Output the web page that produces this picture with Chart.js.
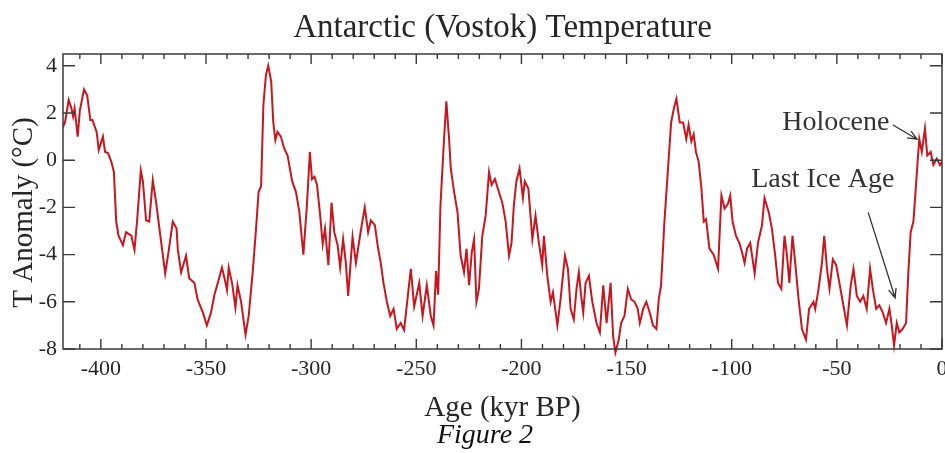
<!DOCTYPE html>
<html><head><meta charset="utf-8">
<script src="https://cdn.jsdelivr.net/npm/chart.js@4/dist/chart.umd.min.js"></script>
<style>html,body{margin:0;padding:0;background:#fff;}canvas{display:block;}</style>
</head><body>
<canvas id="c" width="945" height="453"></canvas>
<script>
const ages = [
-418,-417.0,-415.3,-414.0,-413.2,-412.5,-411.0,-410.0,-408.0,-406.5,
-405.0,-404.0,-402.0,-401.0,-399.0,-398.0,-396.6,-395.0,-393.8,-392.7,
-391.6,-389.5,-388.0,-385.5,-384.0,-382.7,-381.0,-380.0,-378.5,-377.0,
-375.3,-373.7,-372.0,-369.4,-368.0,-365.8,-364.0,-363.4,-361.8,-359.5,
-358.0,-355.5,-354.0,-351.5,-349.6,-347.6,-346.0,-344.4,-342.4,-341.2,
-340.0,-339.2,-337.6,-336.0,-335.0,-333.3,-331.2,-329.7,-327.8,-326.2,
-325.0,-323.8,-322.7,-321.5,-320.4,-319.0,-318.0,-317.0,-316.0,-314.4,
-312.8,-311.2,-309.0,-307.2,-305.6,-303.7,-302.0,-300.6,-299.6,-298.4,
-297.2,-295.7,-294.5,-293.4,-291.8,-290.3,-289.0,-287.4,-286.2,-284.8,
-283.5,-282.4,-280.3,-278.7,-277.6,-276.4,-274.5,-272.9,-271.6,-269.7,
-268.4,-266.9,-265.6,-264.0,-262.4,-260.8,-259.3,-257.4,-255.8,-254.2,
-252.6,-251.0,-248.6,-247.0,-245.0,-243.1,-241.8,-240.6,-239.6,-238.5,
-236.8,-235.7,-234.4,-233.6,-232.0,-230.4,-228.9,-227.3,-226.1,-224.9,
-223.6,-222.5,-221.4,-220.2,-218.6,-217.0,-215.4,-214.2,-212.6,-210.7,
-209.1,-207.5,-205.9,-204.7,-203.6,-202.4,-200.9,-199.3,-198.4,-196.7,
-194.8,-193.3,-191.7,-190.1,-189.3,-187.7,-186.1,-185.0,-182.9,-181.4,
-179.3,-177.9,-176.6,-175.1,-173.8,-172.7,-171.6,-170.6,-169.5,-167.9,
-166.3,-164.3,-162.7,-161.1,-159.5,-157.6,-156.4,-155.3,-153.7,-152.6,
-151.0,-149.4,-147.8,-146.2,-144.7,-143.7,-142.1,-140.6,-139.0,-137.4,
-135.8,-134.7,-133.6,-132.0,-130.4,-128.8,-127.5,-126.3,-124.7,-123.1,
-121.6,-120.5,-119.2,-118.1,-117.0,-115.7,-114.4,-113.3,-112.2,-110.6,
-108.6,-106.5,-104.9,-103.4,-101.8,-100.7,-99.6,-98.0,-96.4,-95.1,
-93.9,-92.7,-91.2,-89.1,-87.5,-85.6,-84.4,-82.4,-80.9,-79.3,
-78.0,-76.4,-74.9,-73.7,-72.6,-71.1,-69.8,-68.2,-66.6,-64.7,
-63.2,-61.1,-60.3,-58.7,-57.1,-56.0,-54.7,-53.5,-51.9,-50.3,
-48.8,-47.2,-45.2,-43.4,-42.1,-40.5,-38.9,-37.4,-35.8,-34.2,
-32.9,-31.3,-29.8,-28.2,-26.6,-25.0,-23.9,-22.8,-21.5,-20.3,
-18.7,-17.1,-16.0,-14.9,-13.6,-12.8,-11.7,-10.8,-9.6,-8.1,
-7.0,-5.4,-4.1,-2.5,-0.95,0
];
const temps = [
1.4,1.63,2.55,2.2,1.85,2.2,1.0,2.1,3.0,2.75,
1.7,1.7,1.2,0.43,1.0,0.35,0.3,-0.07,-0.5,-2.6,
-3.2,-3.6,-3.05,-3.2,-3.8,-2.5,-0.43,-0.9,-2.55,-2.6,
-0.85,-1.8,-3.0,-4.8,-4.0,-2.6,-2.9,-3.8,-4.75,-4.05,
-5.0,-5.2,-5.9,-6.45,-7.0,-6.45,-5.7,-5.2,-4.55,-5.0,
-5.5,-4.55,-5.2,-6.25,-5.3,-6.0,-7.4,-6.6,-4.75,-2.9,
-1.35,-1.1,2.35,3.6,4.0,3.35,1.6,0.85,1.2,1.0,
0.5,0.2,-0.9,-1.35,-2.2,-4.0,-1.9,0.35,-0.8,-0.7,
-1.05,-2.35,-3.55,-2.9,-4.45,-1.8,-3.05,-3.6,-4.55,-3.35,
-4.35,-5.75,-3.25,-4.35,-3.7,-3.0,-2.0,-3.05,-2.55,-2.75,
-3.6,-4.35,-5.2,-6.0,-6.6,-6.3,-7.15,-6.9,-7.2,-5.9,
-4.6,-6.2,-5.2,-6.6,-5.3,-6.6,-7.0,-4.7,-5.7,-1.9,
0.9,2.5,0.9,-0.35,-1.35,-2.2,-4.05,-4.75,-3.75,-5.3,
-3.9,-3.35,-6.0,-5.45,-3.2,-2.35,-0.5,-1.05,-0.8,-1.35,
-1.8,-2.6,-4.05,-3.5,-1.9,-0.9,-0.35,-1.6,-0.9,-1.2,
-3.35,-2.35,-3.5,-4.45,-3.2,-4.9,-6.0,-5.6,-7.0,-5.9,
-4.05,-4.6,-6.3,-6.75,-5.45,-4.75,-5.75,-6.45,-5.2,-4.9,
-6.0,-6.9,-7.3,-5.3,-6.9,-5.2,-7.45,-8.15,-7.6,-6.9,
-6.6,-5.45,-5.9,-6.0,-6.3,-6.9,-6.3,-6.0,-6.45,-7.0,
-7.15,-5.9,-5.3,-2.6,-0.5,1.6,2.2,2.6,1.6,1.6,
0.9,1.5,0.8,1.1,0.35,-0.07,-1.2,-2.6,-2.5,-3.75,
-4.0,-4.6,-1.5,-2.05,-1.85,-1.5,-2.6,-3.2,-3.5,-3.9,
-4.35,-3.75,-3.5,-4.8,-3.5,-2.75,-1.6,-2.2,-2.9,-4.05,
-5.2,-5.45,-3.2,-4.05,-5.2,-3.2,-4.35,-5.9,-7.15,-7.6,
-6.3,-6.0,-6.3,-5.45,-4.35,-3.2,-4.6,-5.45,-4.2,-4.45,
-5.2,-6.0,-7.0,-5.3,-4.6,-5.75,-6.0,-5.75,-6.3,-4.6,
-5.45,-6.3,-6.15,-6.45,-6.9,-6.3,-7.0,-7.85,-6.9,-7.3,
-7.15,-6.9,-4.75,-3.05,-2.6,-1.6,-0.2,0.9,0.35,1.35,
0.2,0.35,-0.2,0.07,-0.2,-0.07
];
const xTickValues = [-400,-350,-300,-250,-200,-150,-100,-50,0];
const xMinorValues = [-410,-390,-380,-370,-360,-340,-330,-320,-310,-290,-280,-270,-260,-240,-230,-220,-210,-190,-180,-170,-160,-140,-130,-120,-110,-90,-80,-70,-60,-40,-30,-20,-10];
const yTickValues = [-8,-6,-4,-2,0,2,4];
const titleText = 'Antarctic (Vostok) Temperature';
const xTitleText = 'Age (kyr BP)';
const yTitleText = 'T Anomaly (°C)';
const captionText = 'Figure 2';
const notes = [
  {text:'Holocene', at:[-76,1.28], from:[-23.3,1.49], to:[-11.9,0.89]},
  {text:'Last Ice Age', at:[-90.7,-1.14], from:[-35.1,-2.21], to:[-22.3,-5.83]}
];

const FONT = 'Liberation Serif';
const TXT = '#262626';

const framePlugin = {
  id: 'frame',
  afterDatasetsDraw(chart) {
    const {ctx, chartArea: a, scales: {x, y}} = chart;
    ctx.save();
    ctx.strokeStyle = '#3a3a3a';
    ctx.lineWidth = 1.5;
    ctx.strokeRect(a.left, a.top, a.right - a.left, a.bottom - a.top);
    ctx.lineWidth = 1.4;
    ctx.beginPath();
    xTickValues.forEach(v => {
      const p = x.getPixelForValue(v);
      ctx.moveTo(p, a.bottom); ctx.lineTo(p, a.bottom - 10);
      ctx.moveTo(p, a.top); ctx.lineTo(p, a.top + 10);
    });
    xMinorValues.forEach(v => {
      const p = x.getPixelForValue(v);
      ctx.moveTo(p, a.bottom); ctx.lineTo(p, a.bottom - 5);
      ctx.moveTo(p, a.top); ctx.lineTo(p, a.top + 5);
    });
    yTickValues.forEach(v => {
      const p = y.getPixelForValue(v);
      ctx.moveTo(a.left, p); ctx.lineTo(a.left + 12, p);
      ctx.moveTo(a.right, p); ctx.lineTo(a.right - 12, p);
    });
    ctx.stroke();

    ctx.fillStyle = '#333';
    ctx.font = '28px "' + FONT + '"';
    ctx.textAlign = 'left';
    ctx.textBaseline = 'alphabetic';
    notes.forEach(n => {
      ctx.fillText(n.text, x.getPixelForValue(n.at[0]), y.getPixelForValue(n.at[1]));
      const x1 = x.getPixelForValue(n.from[0]), y1 = y.getPixelForValue(n.from[1]);
      const x2 = x.getPixelForValue(n.to[0]), y2 = y.getPixelForValue(n.to[1]);
      ctx.strokeStyle = '#333';
      ctx.lineWidth = 1.3;
      ctx.beginPath();
      ctx.moveTo(x1, y1); ctx.lineTo(x2, y2);
      const ang = Math.atan2(y2 - y1, x2 - x1);
      const L = 10, w = 0.4;
      ctx.moveTo(x2 - L * Math.cos(ang - w), y2 - L * Math.sin(ang - w));
      ctx.lineTo(x2, y2);
      ctx.lineTo(x2 - L * Math.cos(ang + w), y2 - L * Math.sin(ang + w));
      ctx.stroke();
    });

    // y-axis title
    ctx.fillStyle = TXT;
    ctx.font = '29px "' + FONT + '"';
    ctx.textAlign = 'center';
    ctx.textBaseline = 'middle';
    ctx.save();
    ctx.translate(24, (a.top + a.bottom) / 2 + 11);
    ctx.rotate(-Math.PI / 2);
    ctx.fillText(yTitleText, 0, 0);
    ctx.restore();

    // caption
    ctx.fillStyle = '#111';
    ctx.font = 'italic 28px "' + FONT + '"';
    ctx.textAlign = 'center';
    ctx.textBaseline = 'middle';
    ctx.fillText(captionText, 485, 436);
    ctx.restore();
  }
};

new Chart(document.getElementById('c'), {
  type: 'line',
  data: {
    datasets: [{
      data: ages.map((a, i) => ({x: a, y: temps[i]})),
      borderColor: '#c8161f',
      borderWidth: 2,
      pointRadius: 0,
      tension: 0,
      fill: false,
      clip: {left: 0, right: 0, top: 0, bottom: 8}
    }]
  },
  options: {
    responsive: false,
    animation: false,
    events: [],
    layout: {padding: {left: 0, right: 3, top: 0, bottom: 33.6}},
    plugins: {
      legend: {display: false},
      tooltip: {enabled: false},
      title: {
        display: true, text: titleText, color: TXT, fullSize: false,
        font: {family: FONT, size: 33, weight: 'normal'},
        padding: {top: 9, bottom: 5.4}
      }
    },
    scales: {
      x: {
        type: 'linear', min: -418, max: 0,
        afterBuildTicks: s => { s.ticks = xTickValues.map(v => ({value: v})); },
        afterFit: s => { s.height = 70.4; s.paddingLeft = 0; s.paddingRight = 0; },
        grid: {display: false, drawTicks: false},
        border: {display: false},
        ticks: {
          color: TXT, padding: 7, maxRotation: 0, autoSkip: false,
          font: {family: FONT, size: 22},
          callback: v => String(v)
        },
        title: {
          display: true, text: xTitleText, color: TXT,
          font: {family: FONT, size: 29},
          padding: {top: 0, bottom: -6}
        }
      },
      y: {
        min: -8, max: 4.5,
        afterBuildTicks: s => { s.ticks = yTickValues.map(v => ({value: v})); },
        afterFit: s => { s.width = 63; s.paddingTop = 0; s.paddingBottom = 0; },
        grid: {display: false, drawTicks: false},
        border: {display: false},
        ticks: {
          color: TXT, padding: 6,
          font: {family: FONT, size: 22},
          callback: v => String(v)
        }
      }
    }
  },
  plugins: [framePlugin]
});
</script>
</body></html>
